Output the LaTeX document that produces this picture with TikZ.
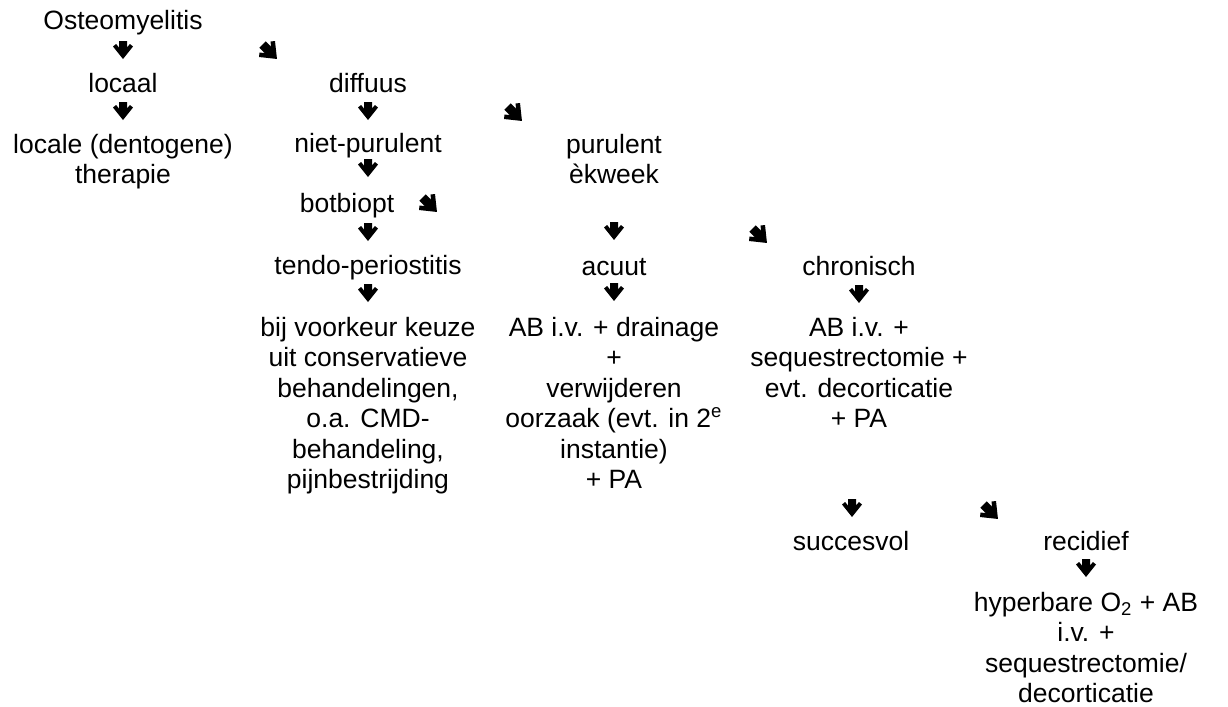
\documentclass[tikz,border=0pt]{standalone}
\usepackage{fontspec}
\setmainfont{Liberation Sans}
\newcommand\mlines[1]{\begin{tabular}[t]{@{}c@{}}#1\end{tabular}}
\tikzset{
  txt/.style={font=\fontsize{13.25}{15.25}\selectfont,
              inner sep=0pt, anchor=base},
  darr/.pic={\fill (-4,-9) -- (4,-9) -- (4,-2.4) -- (6.9,-6) -- (10,-3.5)
             -- (0,9) -- (-10,-3.5) -- (-6.9,-6) -- (-4,-2.4) -- cycle;},
  rarr/.pic={\fill (-8.58,-2.20) -- (-2.20,-8.58) -- (3.08,-3.32) -- (2.52,-8.51)
             -- (7.00,-8.99) -- (8.99,8.99) -- (-8.99,7.00) -- (-8.51,2.52)
             -- (-3.32,3.08) -- cycle;},
}
\begin{document}
\begin{tikzpicture}[x=0.5pt,y=-0.5pt]
\useasboundingbox (0,0) rectangle (1228,707);
\node[txt] (osteo) at (123,29) {Osteomyelitis};
\pic at (123,50) {darr};
\pic at (268,50) {rarr};
\node[txt] (locaal) at (123,92) {locaal};
\node[txt] (diffuus) at (368,92) {diffuus};
\pic at (123,111) {darr};
\pic at (368,111) {darr};
\pic at (513,112) {rarr};
\node[txt] (lokther) at (123,153) {\mlines{locale (dentogene)\\therapie}};
\node[txt] (nietpur) at (368,152) {niet-purulent};
\node[txt] (purulent) at (614,153) {\mlines{purulent\\èkweek}};
\pic at (368,168) {darr};
\node[txt] (botbiopt) at (347,212) {botbiopt};
\pic at (428,203) {rarr};
\pic at (368,232) {darr};
\pic at (614,231) {darr};
\pic at (758,234) {rarr};
\node[txt] (tendo) at (368,274) {tendo-periostitis};
\node[txt] (acuut) at (614,275) {acuut};
\node[txt] (chron) at (859,275) {chronisch};
\pic at (368,293) {darr};
\pic at (614,292) {darr};
\pic at (859,294) {darr};
\node[txt] (tendobeh) at (368,336) {\mlines{bij voorkeur keuze\\uit conservatieve\\behandelingen,\\o.a. CMD-\\behandeling,\\pijnbestrijding}};
\node[txt] (acuutbeh) at (614,336) {\mlines{AB i.v. + drainage\\+\\verwijderen\\oorzaak (evt. in 2\textsuperscript{e}\\instantie)\\+ PA}};
\node[txt] (chronbeh) at (859,336) {\mlines{AB i.v. +\\sequestrectomie +\\evt. decorticatie\\+ PA}};
\pic at (852,508) {darr};
\pic at (989,510) {rarr};
\node[txt] (succes) at (851,550) {succesvol};
\node[txt] (recid) at (1086,550) {recidief};
\pic at (1086,568) {darr};
\node[txt] (recidbeh) at (1086,611) {\mlines{hyperbare O\textsubscript{2} + AB\\i.v. +\\sequestrectomie/\\decorticatie}};
\end{tikzpicture}
\end{document}
